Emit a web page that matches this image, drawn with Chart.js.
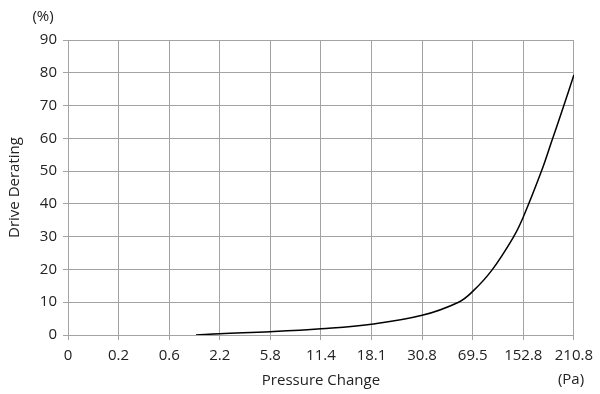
<!DOCTYPE html>
<html>
<head>
<meta charset="utf-8">
<script src="https://cdn.jsdelivr.net/npm/chart.js@4"></script>
<style>
  html, body { margin: 0; padding: 0; background: #fff; }
  #wrap { width: 600px; height: 394px; }
</style>
</head>
<body>
<div id="wrap"><canvas id="derating" width="600" height="394"></canvas></div>
<script>
// tick labels along the pressure axis (evenly spaced)
const pressureLabels = ["0", "0.2", "0.6", "2.2", "5.8", "11.4", "18.1", "30.8", "69.5", "152.8", "210.8"];

// curve samples: position on the label index axis, derating in %
const curvePos = [2.53, 3, 4, 5, 6, 7, 7.72, 8, 8.38, 8.81, 9, 9.36, 9.56, 9.79, 10];
const curveVal = [0, 0.4, 1.0, 1.9, 3.3, 6.0, 10, 13.3, 19.8, 30, 36, 50, 59, 69.5, 79.3];

const FONT = "'Open Sans', 'Noto Sans', sans-serif";
const TEXT = "#222";
const GRID = "#a3a3a3";

const unitLabels = {
    id: "unitLabels",
    afterDraw(chart) {
        const c = chart.ctx;
        c.save();
        c.fillStyle = TEXT;
        c.font = "15px " + FONT;
        c.textBaseline = "middle";
        c.textAlign = "center";
        c.fillText("(%)", 43, 17);
        c.fillText("(Pa)", 571, 380);
        c.restore();
    }
};

new Chart(document.getElementById("derating").getContext("2d"), {
    type: "line",
    data: {
        datasets: [{
            data: curvePos.map((p, i) => ({ x: p, y: curveVal[i] })),
            borderColor: "#000",
            borderWidth: 1.5,
            pointRadius: 0,
            fill: false,
            tension: 0.4
        }]
    },
    options: {
        responsive: false,
        animation: false,
        layout: { padding: { left: 0, right: 24, top: 40, bottom: 0 } },
        plugins: { legend: { display: false }, tooltip: { enabled: false } },
        scales: {
            x: {
                type: "linear",
                min: 0,
                max: 10,
                afterFit(scale) { scale.height = 59; },
                ticks: {
                    stepSize: 1,
                    autoSkip: false,
                    maxRotation: 0,
                    padding: 7,
                    color: TEXT,
                    font: { family: FONT, size: 15 },
                    callback: (v) => pressureLabels[v]
                },
                grid: { color: GRID, tickColor: GRID, tickLength: 5 },
                border: { color: GRID },
                title: {
                    display: true,
                    text: "Pressure Change",
                    color: TEXT,
                    font: { family: FONT, size: 15 },
                    padding: { top: 4, bottom: 4 }
                }
            },
            y: {
                min: 0,
                max: 90,
                afterFit(scale) { scale.width = 68; },
                ticks: {
                    stepSize: 10,
                    padding: 6,
                    color: TEXT,
                    font: { family: FONT, size: 15 }
                },
                grid: { color: GRID, tickColor: GRID, tickLength: 5 },
                border: { color: GRID },
                title: {
                    display: true,
                    text: "Drive Derating",
                    color: TEXT,
                    font: { family: FONT, size: 15 },
                    padding: { top: 6, bottom: 0 }
                }
            }
        }
    },
    plugins: [unitLabels]
});
</script>
</body>
</html>
